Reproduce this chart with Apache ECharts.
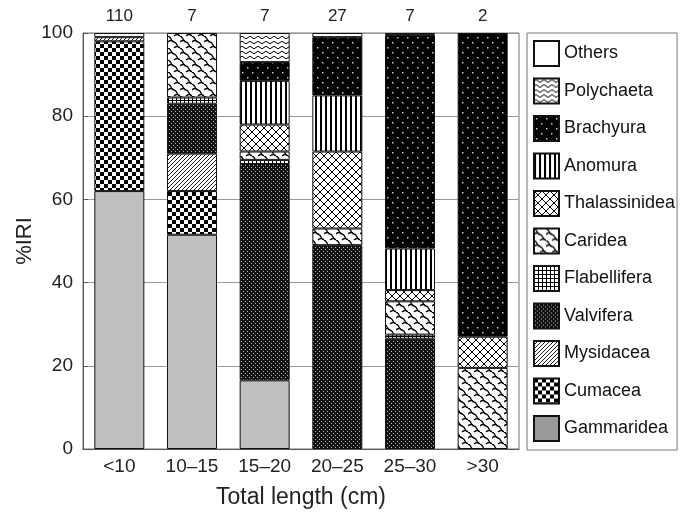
<!DOCTYPE html>
<html><head><meta charset="utf-8">
<script src="https://cdn.jsdelivr.net/npm/echarts@6/dist/echarts.min.js"></script>
<style>body{margin:0;background:#fff}</style>
</head><body>
<div id="c" style="width:685px;height:515px"></div>
<script>
// ---- data ----
const categories = ['<10', '10–15', '15–20', '20–25', '25–30', '>30'];
const sampleSizes = ['110', '7', '7', '27', '7', '2'];
const yTicks = [0, 20, 40, 60, 80, 100];
const gammaridea   = [62,   51.5, 16.5, 0,    0,    0];
const cumacea      = [36,   10.5, 0,    0,    0,    0];
const mysidacea    = [1,    9,    0,    0,    0,    0];
const valvifera    = [0,    12,   52,   49,   26.5, 0];
const flabellifera = [0,    1.5,  1,    0,    1,    0];
const caridea      = [0,    15.5, 2,    4,    8,    19.5];
const thalassinidea= [0,    0,    6.5,  18.5, 2.7,  7.5];
const anomura      = [0,    0,    10.5, 13.5, 10,   0];
const brachyura    = [0,    0,    4.5,  14,   51.3, 73];
const polychaeta   = [1,    0,    7,    1,    0,    0];
const others       = [0,    0,    0,    0,    0.5,  0];

// ---- patterns (styling) ----
function tile(w, h, draw) {
  const c = document.createElement('canvas');
  c.width = w; c.height = h;
  const g = c.getContext('2d');
  draw(g, w, h);
  return { image: c, repeat: 'repeat' };
}
const pat = {
  gamm: '#c0c0c0',
  cum: tile(8, 8, (g) => { g.fillStyle = '#fff'; g.fillRect(0,0,8,8); g.fillStyle = '#000'; g.fillRect(0,0,4,4); g.fillRect(4,4,4,4); }),
  mys: tile(4, 4, (g) => { g.fillStyle = '#fff'; g.fillRect(0,0,4,4); g.strokeStyle = '#000'; g.lineWidth = 0.9;
    g.beginPath(); g.moveTo(0,4); g.lineTo(4,0); g.moveTo(-1,1); g.lineTo(1,-1); g.moveTo(3,5); g.lineTo(5,3); g.stroke(); }),
  valv: tile(4, 4, (g) => { g.fillStyle = '#111'; g.fillRect(0,0,4,4); g.fillStyle = '#bbb'; g.fillRect(1,1,1,1); g.fillRect(3,3,1,1); }),
  flab: tile(4, 4, (g) => { g.fillStyle = '#fff'; g.fillRect(0,0,4,4); g.fillStyle = '#000'; g.fillRect(0,0,4,1); g.fillRect(0,0,1,4); }),
  car: tile(12, 12, (g) => { g.fillStyle = '#fff'; g.fillRect(0,0,12,12); g.strokeStyle = '#000'; g.lineWidth = 1.3;
    g.beginPath();
    for (let k = -12; k <= 12; k += 12) {
      g.moveTo(0 + k, 0); g.bezierCurveTo(4 + k, 1, 2 + k, 5, 6 + k, 6); g.bezierCurveTo(10 + k, 7, 8 + k, 11, 12 + k, 12);
    }
    g.moveTo(0, 6); g.quadraticCurveTo(3, 3, 6, 6);
    g.moveTo(6, 0); g.quadraticCurveTo(9, -3, 12, 0);
    g.moveTo(6, 12); g.quadraticCurveTo(9, 9, 12, 12);
    g.stroke(); }),
  thal: tile(8, 8, (g) => { g.fillStyle = '#fff'; g.fillRect(0,0,8,8); g.strokeStyle = '#000'; g.lineWidth = 1;
    g.beginPath(); g.moveTo(0,0); g.lineTo(8,8); g.moveTo(8,0); g.lineTo(0,8); g.stroke(); }),
  anom: tile(5, 5, (g) => { g.fillStyle = '#fff'; g.fillRect(0,0,5,5); g.fillStyle = '#000'; g.fillRect(0,0,2,5); }),
  brach: tile(10, 10, (g) => { g.fillStyle = '#000'; g.fillRect(0,0,10,10); g.fillStyle = '#ccc'; g.fillRect(2,2,1.5,1.5); g.fillRect(7,7,1.5,1.5); }),
  poly: tile(8, 5, (g) => { g.fillStyle = '#fff'; g.fillRect(0,0,8,5); g.strokeStyle = '#000'; g.lineWidth = 1;
    g.beginPath(); g.moveTo(0,2.5); g.quadraticCurveTo(2,0,4,2.5); g.quadraticCurveTo(6,5,8,2.5); g.stroke(); }),
  oth: '#fff'
};

const seriesDefs = [
  ['Gammaridea', gammaridea, pat.gamm],
  ['Cumacea', cumacea, pat.cum],
  ['Mysidacea', mysidacea, pat.mys],
  ['Valvifera', valvifera, pat.valv],
  ['Flabellifera', flabellifera, pat.flab],
  ['Caridea', caridea, pat.car],
  ['Thalassinidea', thalassinidea, pat.thal],
  ['Anomura', anomura, pat.anom],
  ['Brachyura', brachyura, pat.brach],
  ['Polychaeta', polychaeta, pat.poly],
  ['Others', others, pat.oth]
];

const series = seriesDefs.map(([name, vals, col]) => ({
  name, type: 'bar', stack: 'all', barWidth: 50,
  data: vals.map(v => v === 0 ? null : v),
  itemStyle: { color: col, borderColor: '#111', borderWidth: 1 },
  emphasis: { disabled: true }
}));

const legendData = seriesDefs.slice().reverse().map(([name]) =>
  name === 'Gammaridea' ? { name, itemStyle: { color: '#999' } } : { name });

const FONT = 'Liberation Sans, Arial, sans-serif';
const chart = echarts.init(document.getElementById('c'), null, { renderer: 'canvas' });
chart.setOption({
  animation: false,
  backgroundColor: '#fff',
  textStyle: { fontFamily: FONT },
  grid: { left: 83, right: 166, top: 33, bottom: 66, show: true, borderColor: '#777', borderWidth: 1, backgroundColor: 'transparent' },
  legend: {
    orient: 'vertical', left: 527, top: 33,
    data: legendData, icon: 'rect',
    itemWidth: 25, itemHeight: 25, itemGap: 10.5,
    padding: [7, 2, 8, 6],
    borderColor: '#777', borderWidth: 1,
    textStyle: { fontSize: 18, color: '#111', fontFamily: FONT },
    selectedMode: false
  },
  xAxis: [{
    type: 'category', data: categories,
    axisLine: { lineStyle: { color: '#555' } },
    axisTick: { inside: true, length: 5, lineStyle: { color: '#555' } },
    axisLabel: { fontSize: 19, color: '#222', margin: 8 },
    name: 'Total length (cm)', nameLocation: 'middle', nameGap: 37, nameMoveOverlap: false,
    nameTextStyle: { fontSize: 23, color: '#222' }
  }, {
    type: 'category', data: sampleSizes, position: 'top',
    axisLine: { show: false }, axisTick: { show: false },
    axisLabel: { fontSize: 17, color: '#222', margin: 8 }
  }],
  yAxis: {
    type: 'value', min: yTicks[0], max: yTicks[yTicks.length - 1], interval: 20,
    axisLine: { show: true, lineStyle: { color: '#555' } },
    axisTick: { show: true, inside: true, length: 5, lineStyle: { color: '#555' } },
    axisLabel: { fontSize: 19, color: '#222', margin: 10 },
    splitLine: { show: true, lineStyle: { color: '#999' } },
    name: '%IRI', nameLocation: 'middle', nameGap: 47, nameRotate: 90, nameMoveOverlap: false,
    nameTextStyle: { fontSize: 22, color: '#222' }
  },
  series
});
</script>
</body></html>
